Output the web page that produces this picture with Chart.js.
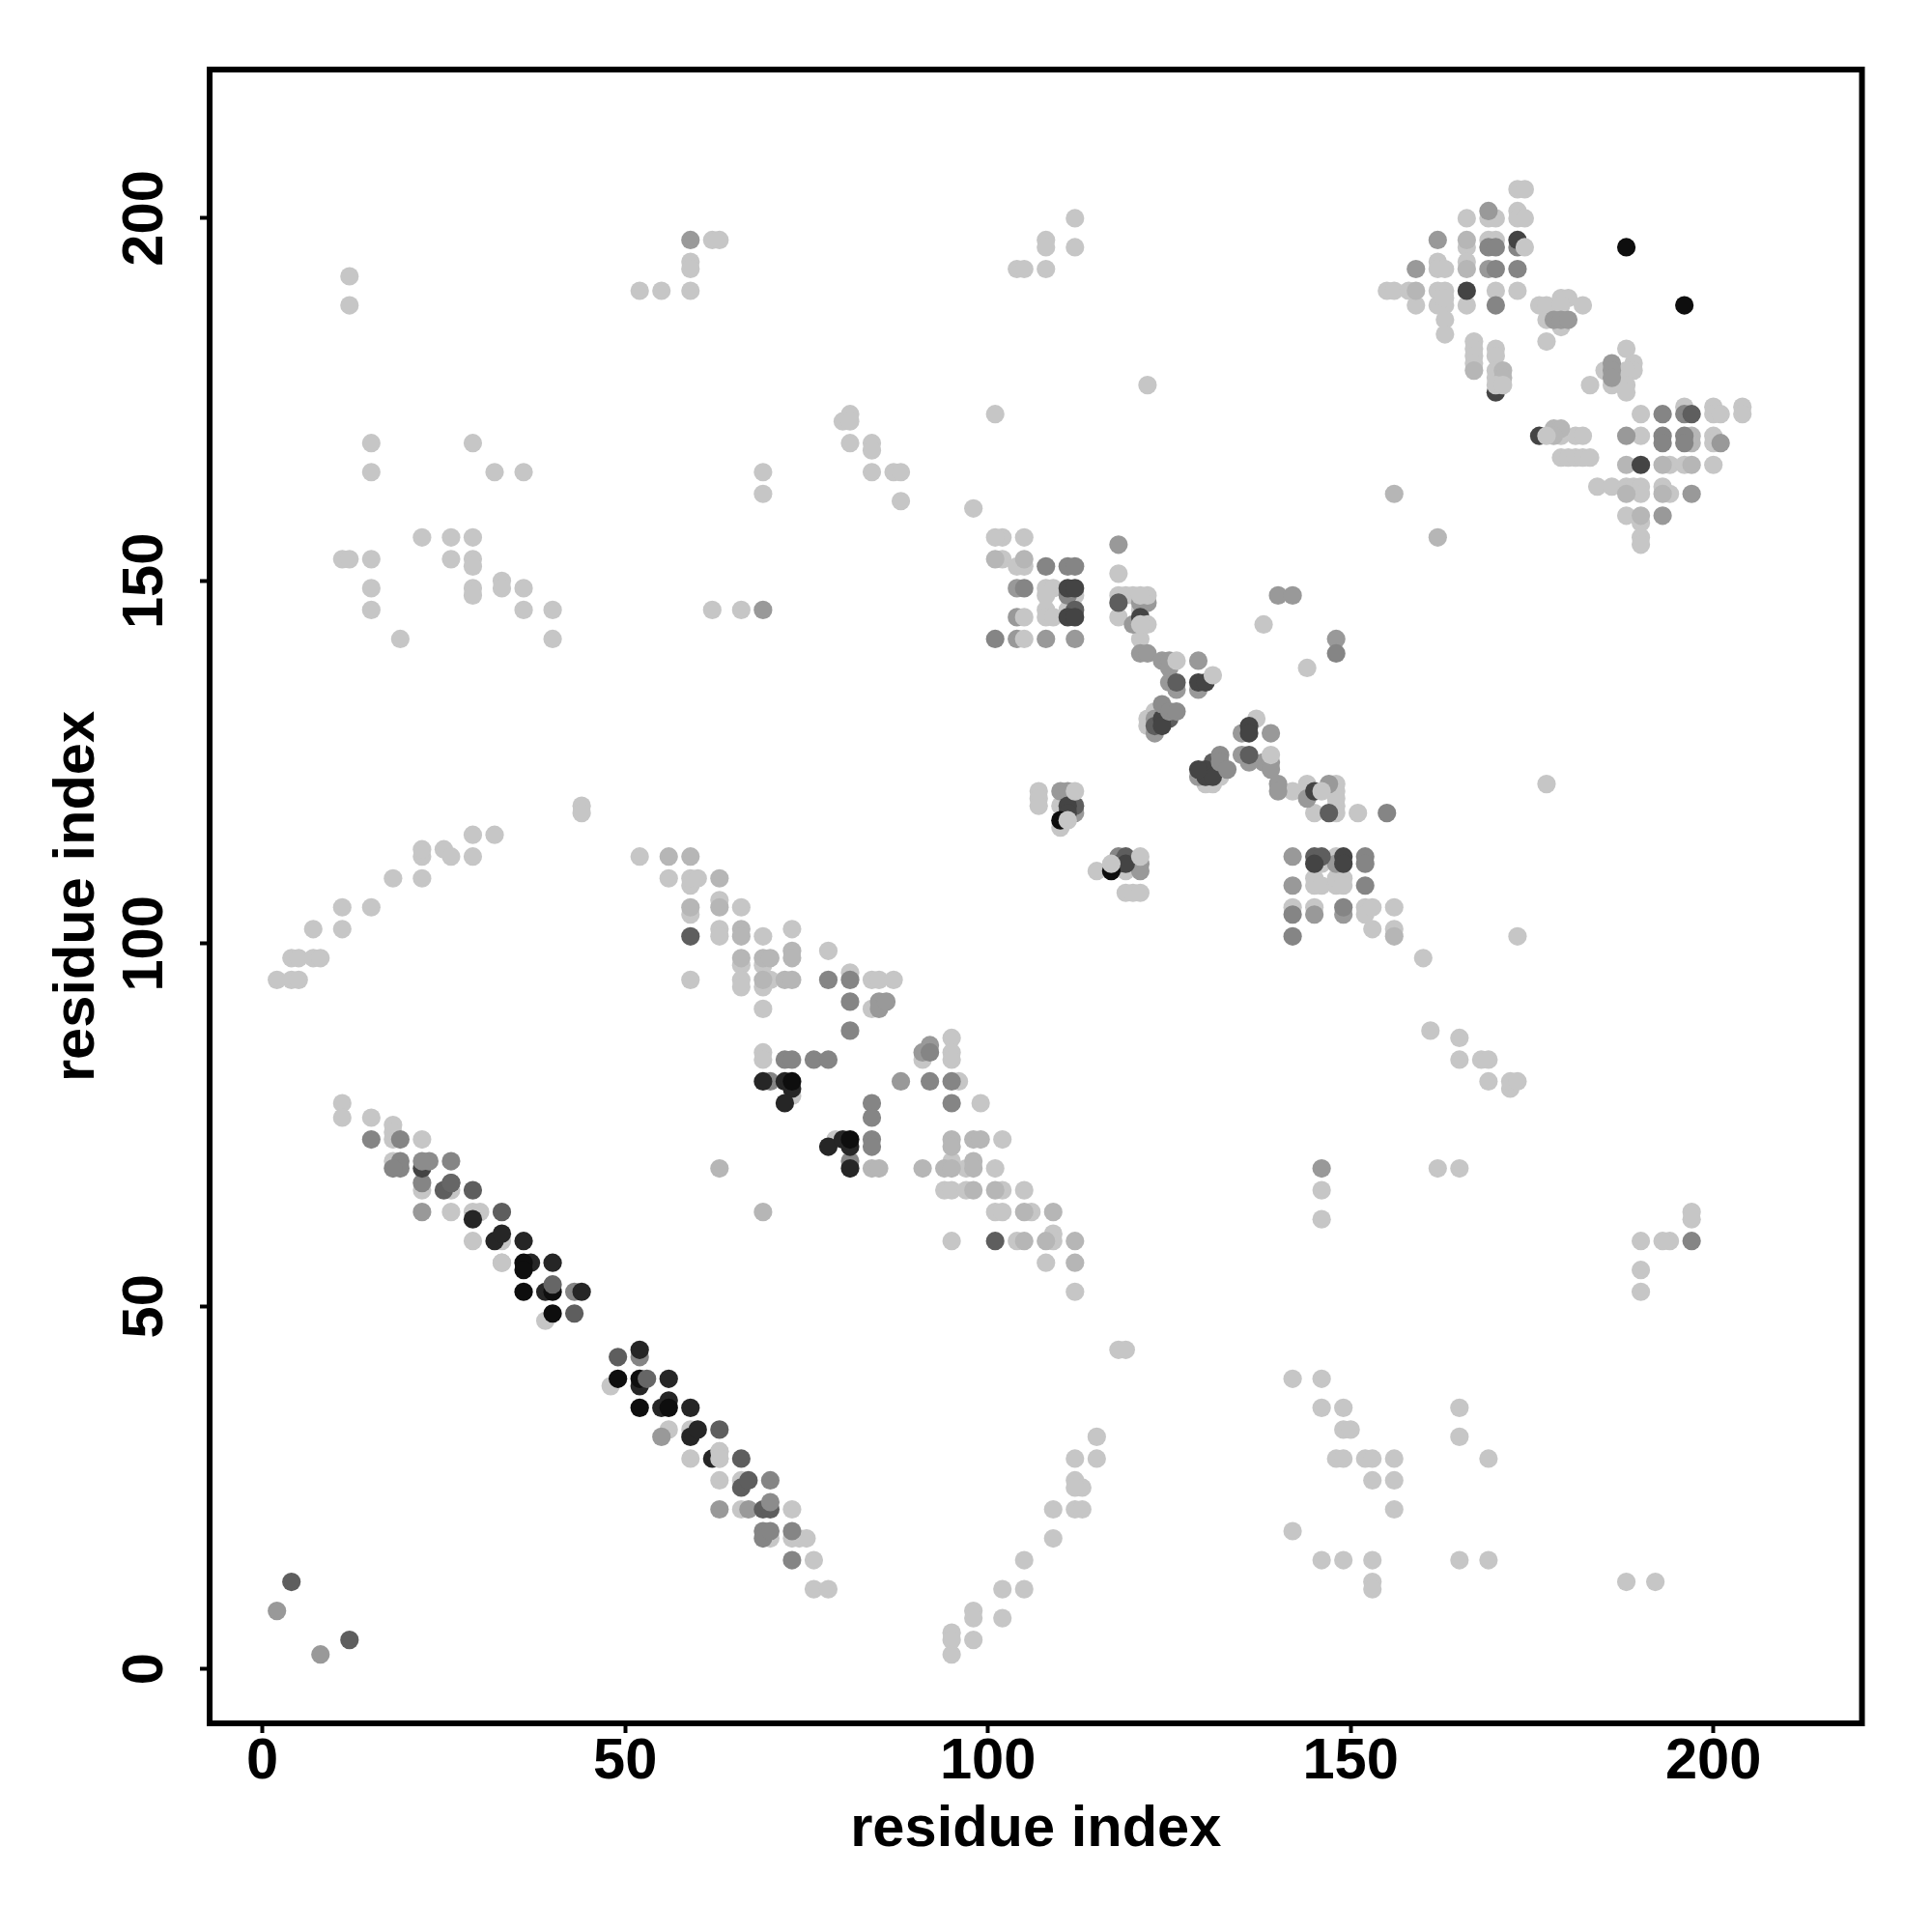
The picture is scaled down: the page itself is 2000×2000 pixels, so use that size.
<!DOCTYPE html>
<html><head><meta charset="utf-8">
<style>html,body{margin:0;padding:0;background:#fff}canvas{display:block}</style>
<script src="https://cdn.jsdelivr.net/npm/chart.js@4/dist/chart.umd.min.js"></script>
</head><body>
<div style="width:2000px;height:2000px"><canvas id="c" width="2000" height="2000"></canvas></div>
<script>
const axisTitle = "residue index";
const tickValues = [0, 50, 100, 150, 200];

const paleBelow = [
[11,78],[11,76],[15,76],[18,75],[18,74],[18,73],[22,73],[18,70],[22,66],[26,66],[26,63],[29,63],[30,63],[29,59],[33,59],[33,56],[39,48],[48,39],[56,33],[59,33],[59,29],[63,30],[63,29],[63,26],[66,26],[66,22],[73,22],[70,18],[73,18],[74,18],[75,18],[76,15],[76,11],[78,11],
[2,95],[4,95],[5,95],[4,98],[5,98],[7,98],[8,98],[7,102],[11,102],[11,105],[15,105],[18,109],[22,109],[22,112],[22,113],[25,113],[26,112],[29,112],[29,115],[32,115],[44,119],[44,118],
[12,192],[12,188],[15,169],[15,165],[29,169],[32,165],[36,165],[11,153],[12,153],[15,153],[15,149],[15,146],[19,142],[22,156],[26,156],[26,153],[29,156],[29,153],[29,152],[29,149],[29,148],[33,150],[33,149],[36,149],[36,146],[40,146],[40,142],
[52,190],[55,190],[59,190],[59,194],[59,193],[62,197],[63,197],[62,146],[66,146],[69,165],[69,162],[80,172],[81,173],[81,172],[81,169],[84,169],[84,168],[84,165],[87,165],[88,165],[88,161],[98,160],[101,173],[104,193],[105,193],[108,193],[108,197],[108,196],[112,200],[112,196],[122,177],
[52,112],[56,109],[59,108],[59,109],[60,109],[59,104],[63,106],[66,105],[63,102],[63,101],[69,101],[73,102],[66,97],[69,97],[78,99],[59,95],[66,95],[66,94],[69,94],[70,95],[81,96],[84,95],[85,95],[87,95],[84,91],[69,91],[69,85],[69,84],[95,87],[91,84],[95,85],[95,84],[79,73],[73,79],[96,81],[99,78],[102,73],[95,70],[97,69],[101,69],[94,66],[95,66],[97,66],[102,66],[105,66],[101,63],[102,63],[106,63],[95,59],[104,59],[109,60],[109,59],[108,56],[112,52],
[118,44],[119,44],[142,40],[146,40],[146,36],[149,36],[165,36],[149,33],[150,33],[165,32],[148,29],[149,29],[152,29],[153,29],[156,29],[169,29],[153,26],[156,26],[156,22],[142,19],[146,15],[149,15],[153,15],[165,15],[169,15],[153,12],[153,11],[188,12],[192,12],
[115,32],[115,29],[112,29],[112,26],[113,25],[112,25],[112,22],[113,22],[109,22],[109,18],[105,15],[105,11],[102,11],[102,7],[98,8],[98,7],[98,4],[95,5],[95,4],[95,2],
[162,69],[165,69],[146,66],[146,62],[197,63],[197,62],[194,59],[193,59],[190,59],[190,55],[190,52],
[161,88],[165,87],[165,84],[168,84],[169,84],[169,81],[172,80],[172,81],[173,81],[160,98],[173,101],[177,122],[138,144],[144,138],
[102,156],[105,156],[101,156],[102,153],[104,152],[105,152],[108,149],[109,149],[108,148],[112,148],[108,146],[108,145],[109,145],[111,146],[118,151],[118,148],[119,148],[120,148],[118,145],[121,146],[121,142],[137,131],[142,121],[144,122],[148,122],[148,121],[148,120],[148,119],[148,118],[145,118],[151,118],[130,122],[131,122],[132,123],[122,131],[122,130],[123,132],[107,121],[107,120],[107,119],[110,119],[110,116],[115,110],[119,110],[119,107],[120,107],[121,107],
[145,109],[145,108],[146,108],[146,111],[148,108],[148,109],[149,109],[149,108],[148,112],[142,105],[145,105],[152,105],[152,104],[153,105],[156,105],[153,102],[156,102],
[173,204],[174,204],[166,200],[169,200],[170,200],[173,201],[173,200],[174,200],[166,196],[169,197],[170,197],[162,194],[166,194],[162,193],[163,193],[155,190],[156,190],[158,190],[162,190],[163,190],[170,190],[173,190],[159,188],[162,188],[163,188],[166,188],[163,189],[163,186],[163,184],[176,188],[177,188],[179,189],[180,189],[179,188],[182,188],[177,186],[179,185],[177,183],
[167,183],[167,182],[167,181],[167,180],[170,182],[170,181],[170,179],[170,178],[188,182],[189,180],[189,179],[188,179],[185,179],[188,177],[188,176],[186,177],[183,177],
[190,173],[196,174],[200,174],[200,173],[201,173],[204,174],[204,173],[179,170],[181,170],[182,170],[190,170],[200,170],[200,169],[179,167],[180,167],[181,167],[182,167],[183,167],[194,166],[196,166],[200,166],[184,163],[186,163],[188,163],[189,163],[190,163],[193,163],[190,162],[194,162],[188,159],[190,158],[190,156],[190,155]
];
const softGrey = [
[56,112],[59,112],[63,109],[59,105],[63,105],[66,102],[66,101],[66,98],[69,98],[70,98],[73,99],[73,98],[69,95],[72,95],[73,95],[95,73],[95,72],[98,73],[99,73],[84,69],[85,69],[91,69],[94,69],[95,69],[98,70],[98,69],[101,66],[98,66],[105,63],[109,63],[105,59],[108,59],[112,59],[112,56],[63,69],[69,63],
[105,153],[101,153],[156,101],[156,162],[162,156],
[178,171],[179,171],[178,170],[166,197],[166,193],[159,190],[188,166],[193,166],[197,166],[188,162],[193,162],[190,159],[167,179],[171,179],[171,178],[197,170],[197,169]
];
const midGrey = [
[2,8],[8,2],[55,32],[22,63],[67,22],[63,22],[85,92],[85,91],[86,92],[92,86],[91,85],[88,81],[69,146],[59,197],[118,155],[104,149],[104,145],[104,142],[108,142],[112,142],[121,147],[122,147],[120,144],[121,140],[122,140],[124,139],[125,139],[125,138],[125,136],[129,139],[126,135],[129,135],[123,131],[123,129],[135,129],[139,129],[135,126],[138,125],[139,125],[139,124],[136,125],[129,123],[140,122],[140,121],[144,120],[147,122],[110,121],[111,121],[112,118],[121,111],[121,110],[142,112],[142,108],[145,104],[148,111],[149,104],[140,148],[142,148],[148,142],
[169,201],[162,197],[159,193],[169,193],[193,159],[197,162],[201,169],[188,170],[186,180],[186,179],[186,178],[178,186],[179,186],[180,186],[146,69]
];
const steelGrey = [
[52,43],[70,26],[69,19],[69,18],[70,19],[73,19],[73,15],[15,73],[19,73],[19,70],[19,69],[26,70],[18,69],[22,67],[43,52],
[72,84],[73,84],[76,84],[78,84],[70,81],[81,95],[78,95],[81,92],[81,88],[84,78],[84,76],[84,73],[84,72],[81,70],[92,85],[92,81],[95,81],[95,78],
[101,142],[105,149],[108,152],[111,152],[112,152],[111,148],[152,112],[152,111],[152,108],[149,105],[142,104],[142,101],[155,118],[118,112],[197,59],
[169,196],[170,196],[173,196],[170,193],[173,193],[170,188],[193,173],[196,173],[193,170],[193,169],[196,170],[196,169],[148,140]
];
const dimGrey = [
[4,12],[12,4],[49,43],[63,33],[66,29],[66,25],[67,26],[69,22],[70,22],[59,101],[101,59],[25,66],[26,67],[29,66],[33,63],[43,49],
[118,147],[112,146],[126,136],[136,126],[125,131],[123,130],[131,125],[131,124],[147,118],[112,119],[119,112],[118,111],[145,112],[146,112],[197,173]
];
const charcoal = [
[22,69],[166,190],[170,176],[173,197],[190,166],[176,170],[111,149],[112,149],[111,145],[112,145],[121,145],[129,136],[130,136],[124,131],[124,130],[136,130],[136,129],[130,124],[130,123],[131,123],[129,124],[145,121],[111,119],[111,118],[119,111],[145,111],[149,112],[149,111]
];
const nearBlack = [
[52,44],[55,36],[56,37],[59,36],[59,32],[60,33],[62,29],[56,40],[52,39],[29,62],[32,59],[33,60],[36,59],[37,56],[40,56],[39,52],[44,52],[69,81],[72,81],[73,80],[72,78],[78,72],[80,73],[81,72],[81,69]
];
const blackest = [
[188,196],[196,188],[49,40],[52,40],[52,36],[56,36],[36,56],[36,55],[36,52],[40,52],[40,49],[73,81],[81,73],[110,117],[117,110]
];
const midAbove = [[132,126],[132,125],[133,124],[124,133],[125,132],[126,132],[70,23],[23,70],[22,70]];
const paleAbove = [
[174,196],[131,137],[126,139],[139,126],[112,121],[122,148],[121,148],[122,144],[121,144],[105,145],[105,142],[121,112],[33,56],[63,30],[63,29],
[117,111],[111,117],[146,121],[177,170],[170,177],[171,177]
];
const dimAbove = [[40,53],[53,40],[26,67]];

const layers = [
  {pts: paleBelow, col:'#c6c6c6'},
  {pts: softGrey,  col:'#b6b6b6'},
  {pts: midGrey,   col:'#999999'},
  {pts: steelGrey, col:'#858585'},
  {pts: dimGrey,   col:'#5e5e5e'},
  {pts: charcoal,  col:'#444444'},
  {pts: nearBlack, col:'#262626'},
  {pts: blackest,  col:'#0e0e0e'},
  {pts: midAbove,  col:'#8c8c8c'},
  {pts: paleAbove, col:'#c6c6c6'},
  {pts: dimAbove,  col:'#666666'}
];

const frame = {
  id:'frame',
  afterDraw(chart){
    const a = chart.chartArea, g = chart.ctx;
    g.save(); g.lineWidth = 6; g.strokeStyle = '#000';
    g.strokeRect(a.left, a.top, a.right-a.left, a.bottom-a.top);
    g.restore();
  }
};
const font = {family:'"Liberation Sans"', size:59.6, weight:'bold'};
const grid = {drawOnChartArea:false, drawTicks:true, tickLength:10, tickWidth:4, tickColor:'#000'};
const setTicks = s => { s.ticks = tickValues.map(v => ({value:v, label:String(v)})); };

new Chart(document.getElementById('c'), {
  type:'scatter',
  data:{datasets: layers.map((l,i) => ({
    data:l.pts.map(p => ({x:p[0], y:p[1]})),
    backgroundColor:l.col, borderWidth:0, pointRadius:9.6, pointHoverRadius:9.6,
    order:layers.length-i
  }))},
  plugins:[frame],
  options:{
    responsive:false, animation:false,
    layout:{padding:{left:0, right:72.5, top:72, bottom:0}},
    plugins:{legend:{display:false}, tooltip:{enabled:false}},
    scales:{
      x:{type:'linear', min:-7.28, max:220.48, afterBuildTicks:setTicks,
        afterFit:s=>{s.height=216;},
        border:{display:false}, grid,
        ticks:{color:'#000', font, padding:-5, maxRotation:0, minRotation:0},
        title:{display:true, text:axisTitle, color:'#000', font, padding:{top:4,bottom:70}}},
      y:{type:'linear', min:-7.5, max:220.5, afterBuildTicks:setTicks,
        afterFit:s=>{s.width=217;},
        border:{display:false}, grid,
        ticks:{color:'#000', font, padding:6, crossAlign:'center', minRotation:90, maxRotation:90},
        title:{display:true, text:axisTitle, color:'#000', font, padding:{top:45,bottom:0}}}
    }
  }
});
</script>
</body></html>
